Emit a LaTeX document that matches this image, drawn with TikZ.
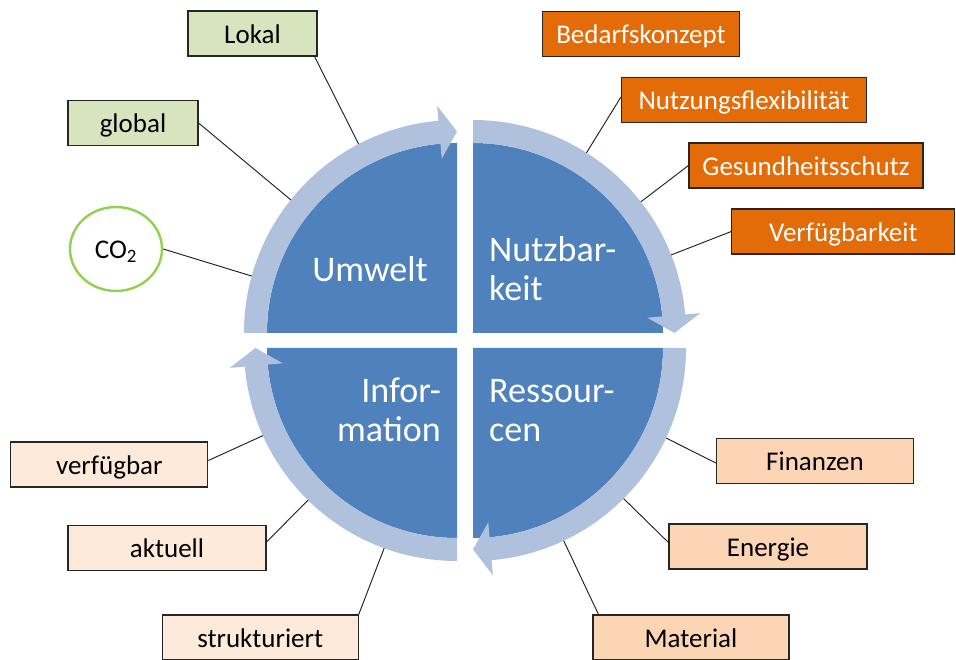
\documentclass[tikz,border=0pt]{standalone}
\usepackage{fontspec}
\setmainfont{Carlito}
\usepackage{tikz}
\usetikzlibrary{shapes.geometric}
\definecolor{segblue}{RGB}{79,129,189}
\definecolor{ringblue}{RGB}{176,193,221}
\definecolor{orng}{RGB}{227,108,9}
\definecolor{lgreen}{RGB}{215,228,189}
\definecolor{peachA}{RGB}{253,234,218}
\definecolor{peachB}{RGB}{252,213,181}
\definecolor{cogreen}{RGB}{146,208,80}
\tikzset{seg/.style={fill=segblue},ring/.style={fill=ringblue},
  lbl/.style={draw=black!85,line width=1.1pt,inner sep=0pt,minimum height=45pt,text height=20pt,text depth=0pt,font=\fontsize{27}{32}\selectfont},
  obox/.style={lbl,fill=orng,text=white},gbox/.style={lbl,fill=lgreen},pboxA/.style={lbl,fill=peachA},pboxB/.style={lbl,fill=peachB},
  qtxt/.style={text=white,inner sep=0pt,font=\fontsize{36}{39}\selectfont},lnk/.style={line width=0.9pt,black!90}}

\begin{document}
\begin{tikzpicture}[x=1pt,y=1pt]
\useasboundingbox (0,0) rectangle (956,659);
\coordinate (cTL) at (457,326); \coordinate (cTR) at (473,326); \coordinate (cBR) at (473,311); \coordinate (cBL) at (457,311);
\foreach \c/\s in {cTL/180,cTR/90,cBR/0,cBL/270}{
  \begin{scope}[shift={(\c)}]
  \fill[seg] (0,0) -- (\s:190) arc[start angle=\s,delta angle=-90,radius=190] -- cycle;
  \fill[ring] (\s:213) arc[start angle=\s,delta angle=-85,radius=213] -- ({\s-85}:228) -- ({\s-90}:201.5) -- ({\s-85}:175) -- ({\s-85}:190) arc[start angle=\s-85,delta angle=85,radius=190] -- cycle;
  \end{scope}}
\foreach \n/\c/\a in {a/cTL/117.5,b/cTL/141.3,c/cTL/164.5,d/cTR/57.8,e/cTR/38,f/cTR/21.5,g/cBR/335,h/cBR/315,i/cBR/295.2,j/cBL/204.3,k/cBL/225.6,l/cBL/250}
  \coordinate (p\n) at ([shift={(\a:213)}]\c);
\node[qtxt,anchor=base] (umw) at (370,377) {Umwelt};
\node[qtxt,anchor=west,align=left] (nutzb) at (489,390.5) {Nutzbar-\\keit};
\node[qtxt,anchor=east,align=right] (info) at (441,249.5) {Infor-\\mation};
\node[qtxt,anchor=west,align=left] (ress) at (489,248.6) {Ressour-\\cen};
\node[gbox,minimum width=129pt] (lokal) at (252.5,625.5) {Lokal}; \node[gbox,minimum width=130pt] (global) at (133,536) {global};
\node[ellipse,draw=cogreen,line width=2.4pt,fill=white,inner sep=0pt,minimum width=92pt,minimum height=84pt,text height=20pt,text depth=0pt,font=\fontsize{27}{32}\selectfont] (co) at (116,410) {CO\textsubscript{2}};
\node[obox,minimum width=197pt] (bedarf) at (641,625) {Bedarfskonzept}; \node[obox,minimum width=245pt] (nutz) at (744,559) {Nutzungsflexibilität};
\node[obox,minimum width=234pt] (gesund) at (806,493.5) {Gesundheitsschutz}; \node[obox,minimum width=223pt] (verfk) at (843.3,427.5) {Verfügbarkeit};
\node[pboxA,minimum width=197pt] (verf) at (109.3,194.5) {verfügbar}; \node[pboxA,minimum width=198pt] (akt) at (167,111) {aktuell};
\node[pboxA,minimum width=196pt] (strukt) at (260.2,21.5) {strukturiert};
\node[pboxB,minimum width=197pt] (fin) at (815,198) {Finanzen}; \node[pboxB,minimum width=198pt] (ener) at (768,112.5) {Energie};
\node[pboxB,minimum width=196pt] (mat) at (691,21.5) {Material};
\draw[lnk] ([xshift=-3pt]lokal.south east) -- (pa); \draw[lnk] (global.east) -- (pb); \draw[lnk] (co.east) -- (pc);
\draw[lnk] ([yshift=3pt]nutz.west) -- (pd); \draw[lnk] (gesund.west) -- (pe); \draw[lnk] (verfk.west) -- (pf);
\draw[lnk] ([yshift=-2pt]fin.west) -- (pg); \draw[lnk] ([yshift=4pt]ener.west) -- (ph); \draw[lnk] ([xshift=6pt]mat.north west) -- (pi);
\draw[lnk] ([yshift=4pt]verf.east) -- (pj); \draw[lnk] ([yshift=6pt]akt.east) -- (pk); \draw[lnk] (strukt.north east) -- (pl);
\end{tikzpicture}
\end{document}
